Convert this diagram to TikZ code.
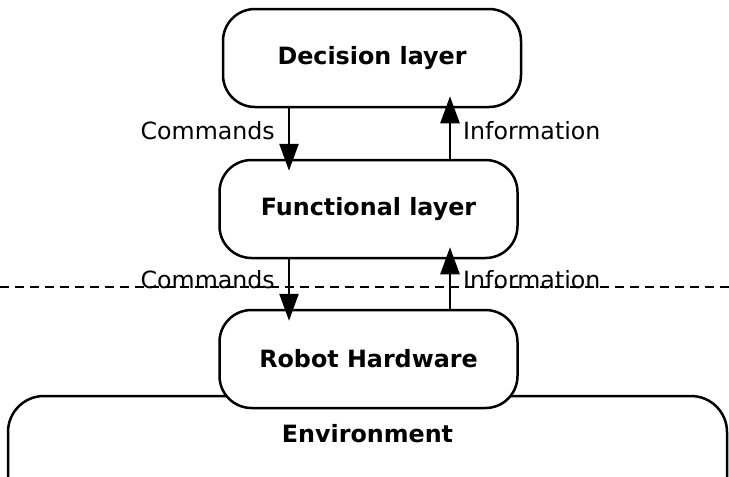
\documentclass[tikz,border=0pt]{standalone}
\usepackage{fontspec}
\setmainfont{DejaVu Sans}
\usepackage{xcolor}
\usepackage{tikz}
\usetikzlibrary{arrows.meta}
\definecolor{ink}{HTML}{000000}
\definecolor{paper}{HTML}{FFFFFF}
\tikzset{
  layer/.style={draw=ink, fill=paper, line width=2.5pt, rounded corners=32pt,
    minimum width=298pt, minimum height=98pt, inner sep=0pt,
    font=\fontsize{23.8}{28}\selectfont\bfseries},
  envbox/.style={draw=ink, fill=paper, line width=2.5pt, rounded corners=36pt,
    minimum width=719pt, minimum height=200pt, inner sep=0pt},
  arr/.style={draw=ink, line width=2.5pt, -{Triangle[length=27pt,width=19pt]}, shorten >=-12pt},
  dashedline/.style={draw=ink, line width=2pt, dash pattern=on 9pt off 6pt},
  lbl/.style={text=ink, inner sep=0pt, font=\fontsize{23.7}{28}\selectfont}
}

\begin{document}
\begin{tikzpicture}[x=1pt, y=-1pt]
  \clip (0,0) rectangle (729,477);
  \fill[paper] (0,0) rectangle (729,477);

  % layers
  \node[layer] (decision) at (372,58) {Decision layer};
  \node[layer] (functional) at (368.5,209) {Functional layer};
  \node[envbox, label={[lbl, anchor=center, yshift=-39pt, font=\fontsize{23.8}{28}\selectfont\bfseries]north:Environment}] (env) at (367.5,496) {};
  \node[layer] (hardware) at (368.5,359) {Robot Hardware};

  \draw[dashedline] (0,287) -- (729,287);

  % decision <-> functional
  \draw[arr] ([xshift=-83pt]decision.south) -- ([xshift=-79.5pt]functional.north);
  \draw[arr] ([xshift=81.5pt]functional.north) -- ([xshift=78pt]decision.south);
  \node[lbl, anchor=east] (cmd1) at (275,131) {Commands};
  \node[lbl, anchor=west] (info1) at (463,131) {Information};

  % functional <-> hardware
  \draw[arr] ([xshift=-79.5pt]functional.south) -- ([xshift=-79.5pt]hardware.north);
  \draw[arr] ([xshift=81.5pt]hardware.north) -- ([xshift=81.5pt]functional.south);
  \node[lbl, anchor=east] (cmd2) at (275,280) {Commands};
  \node[lbl, anchor=west] (info2) at (463,280) {Information};
\end{tikzpicture}
\end{document}
